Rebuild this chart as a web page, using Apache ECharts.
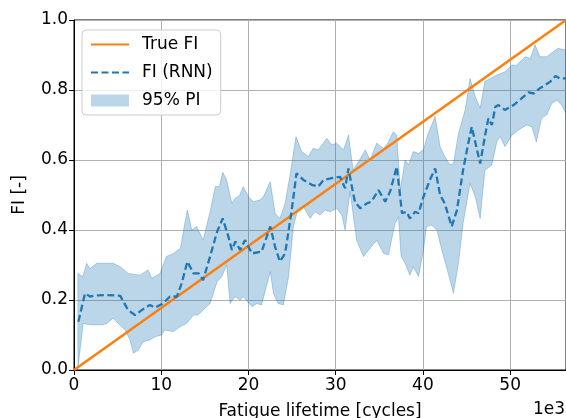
<!DOCTYPE html>
<html>
<head>
<meta charset="utf-8">
<script src="https://cdn.jsdelivr.net/npm/echarts@6/dist/echarts.min.js"></script>
<style>html,body{margin:0;padding:0;background:#fff;}#c{width:566px;height:418px;}</style>
</head>
<body>
<div id="c"></div>
<script>
// x in thousands of cycles, y = fatigue index
const xMax = 56.4;
const trueFI = [[0, 0], [56.4, 1.0]];
const meanFI = [[0.5,0.138],[1.26,0.219],[1.83,0.21],[2.4,0.213],[3.5,0.214],[4.9,0.213],[5.3,0.212],[6.2,0.171],[7.0,0.157],[7.76,0.171],[8.7,0.186],[9.3,0.178],[10.2,0.19],[11.0,0.21],[11.8,0.21],[12.35,0.248],[13.0,0.31],[13.7,0.276],[14.3,0.276],[14.8,0.257],[15.6,0.324],[16.4,0.395],[17.05,0.433],[17.7,0.381],[18.1,0.343],[18.5,0.367],[19.04,0.343],[19.6,0.371],[20.4,0.333],[21.5,0.338],[22.5,0.41],[23.05,0.352],[23.6,0.31],[24.2,0.333],[24.96,0.457],[25.5,0.562],[26.3,0.543],[27.26,0.529],[28.0,0.524],[28.6,0.543],[29.55,0.548],[30.5,0.552],[31.08,0.519],[31.46,0.576],[31.85,0.524],[32.2,0.481],[32.8,0.462],[33.57,0.476],[34.1,0.481],[34.9,0.514],[35.67,0.481],[36.24,0.51],[37.0,0.581],[37.6,0.448],[38.15,0.452],[38.5,0.433],[39.1,0.452],[39.5,0.448],[40.06,0.495],[40.8,0.543],[41.4,0.576],[41.97,0.5],[42.5,0.476],[43.3,0.41],[43.9,0.457],[44.6,0.571],[45.2,0.648],[45.6,0.695],[46.2,0.629],[46.56,0.59],[47.1,0.667],[47.5,0.719],[47.9,0.7],[48.3,0.752],[48.66,0.757],[49.4,0.743],[50.4,0.757],[51.3,0.776],[52.1,0.793],[52.7,0.79],[53.4,0.805],[54.0,0.814],[54.6,0.824],[55.2,0.84],[55.7,0.833],[56.4,0.833]];
const upperPI = [[0.45,0.276],[1.0,0.267],[1.45,0.305],[1.83,0.29],[2.6,0.305],[4.5,0.305],[5.3,0.295],[6.2,0.276],[7.55,0.271],[8.5,0.286],[8.9,0.262],[9.86,0.276],[10.6,0.324],[11.4,0.333],[12.2,0.348],[12.7,0.419],[13.0,0.457],[13.5,0.4],[14.06,0.41],[14.8,0.371],[15.6,0.452],[16.2,0.524],[16.66,0.524],[17.05,0.565],[17.5,0.543],[18.1,0.476],[18.46,0.49],[19.0,0.5],[19.4,0.524],[20.0,0.495],[20.56,0.481],[21.3,0.486],[21.7,0.495],[22.5,0.538],[23.05,0.448],[23.6,0.433],[24.2,0.476],[24.8,0.562],[25.45,0.667],[26.1,0.624],[26.87,0.61],[27.4,0.633],[28.0,0.629],[28.98,0.662],[29.55,0.643],[30.1,0.648],[30.9,0.629],[31.46,0.671],[32.0,0.571],[32.6,0.595],[33.4,0.629],[33.94,0.6],[34.7,0.648],[35.5,0.633],[36.05,0.652],[36.6,0.681],[37.0,0.671],[37.4,0.514],[37.96,0.6],[38.35,0.586],[38.9,0.624],[39.5,0.619],[40.06,0.629],[40.6,0.676],[41.4,0.724],[41.97,0.638],[42.5,0.61],[43.1,0.586],[43.5,0.59],[44.07,0.676],[44.84,0.743],[45.4,0.833],[46.0,0.781],[46.56,0.748],[47.1,0.824],[47.7,0.833],[48.47,0.843],[49.4,0.852],[50.2,0.871],[50.76,0.871],[51.7,0.895],[52.3,0.89],[52.86,0.929],[53.4,0.895],[54.2,0.895],[54.97,0.91],[55.5,0.919],[56.4,0.914]];
const lowerPI = [[0.45,0.005],[1.05,0.133],[1.83,0.129],[3.3,0.129],[3.75,0.133],[4.5,0.148],[5.1,0.133],[5.85,0.114],[6.42,0.086],[6.8,0.048],[7.37,0.057],[7.94,0.081],[8.7,0.086],[9.3,0.095],[10.05,0.1],[10.4,0.114],[11.4,0.11],[12.2,0.124],[12.9,0.133],[13.7,0.157],[14.2,0.157],[14.8,0.171],[15.6,0.19],[16.4,0.252],[16.94,0.267],[17.5,0.3],[17.9,0.19],[18.46,0.21],[19.04,0.2],[19.4,0.21],[20.4,0.181],[20.95,0.19],[21.5,0.186],[22.5,0.281],[22.86,0.219],[23.4,0.19],[24.0,0.186],[24.6,0.267],[25.15,0.41],[25.7,0.462],[26.3,0.467],[27.07,0.433],[27.6,0.452],[28.2,0.443],[28.8,0.457],[29.36,0.452],[30.1,0.462],[30.7,0.443],[31.08,0.4],[31.65,0.51],[32.03,0.438],[32.4,0.371],[33.18,0.324],[33.94,0.348],[34.7,0.371],[35.5,0.333],[36.05,0.329],[36.8,0.419],[37.2,0.438],[37.5,0.324],[37.96,0.305],[38.5,0.271],[38.9,0.295],[39.5,0.267],[40.06,0.343],[40.4,0.41],[41.0,0.414],[41.6,0.4],[42.16,0.343],[42.7,0.295],[43.5,0.219],[44.07,0.305],[44.6,0.419],[45.4,0.533],[46.0,0.495],[46.56,0.433],[47.1,0.571],[47.9,0.586],[48.47,0.652],[48.85,0.667],[49.4,0.638],[50.2,0.671],[50.95,0.686],[51.9,0.7],[52.5,0.695],[53.0,0.652],[53.6,0.719],[54.2,0.729],[54.78,0.762],[55.35,0.771],[55.9,0.757],[56.4,0.733]];

const FONT = 'DejaVu Sans';
const chart = echarts.init(document.getElementById('c'), null, {renderer: 'canvas'});
chart.setOption({
  animation: false,
  textStyle: {fontFamily: FONT},
  grid: {left: 74, right: 0, top: 20, bottom: 48, containLabel: false, outerBoundsMode: 'none',
         show: true, borderColor: '#000', borderWidth: 1, backgroundColor: 'transparent'},
  legend: {
    orient: 'vertical', left: 82, top: 30,
    itemWidth: 38, itemHeight: 12, itemGap: 11,
    padding: [6, 8, 6, 8],
    backgroundColor: 'rgba(255,255,255,0.8)', borderColor: '#cccccc', borderWidth: 1, borderRadius: 4,
    textStyle: {fontFamily: FONT, fontSize: 17, color: '#000', padding: [0, 0, 0, 8]},
    data: [
      {name: 'True FI', itemStyle: {opacity: 0}},
      {name: 'FI (RNN)', itemStyle: {opacity: 0}},
      {name: '95% PI', icon: 'rect', itemStyle: {color: 'rgba(31,119,180,0.3)', opacity: 1}}
    ]
  },
  xAxis: {
    type: 'value', min: 0, max: xMax, interval: 10,
    name: 'Fatigue lifetime [cycles]', nameLocation: 'middle', nameGap: 33,
    nameTextStyle: {fontFamily: FONT, fontSize: 17, color: '#000'},
    axisLine: {show: true, onZero: false, lineStyle: {color: '#000', width: 1}},
    axisTick: {show: true, length: 5, lineStyle: {color: '#000'}},
    axisLabel: {fontFamily: FONT, fontSize: 17, color: '#000', margin: 7, showMaxLabel: false},
    splitLine: {show: true, lineStyle: {color: '#b0b0b0', width: 1}}
  },
  yAxis: {
    type: 'value', min: 0, max: 1, interval: 0.2,
    name: 'FI [-]', nameLocation: 'middle', nameGap: 46,
    nameTextStyle: {fontFamily: FONT, fontSize: 17, color: '#000'},
    axisLine: {show: true, onZero: false, lineStyle: {color: '#000', width: 1}},
    axisTick: {show: true, length: 5, lineStyle: {color: '#000'}},
    axisLabel: {fontFamily: FONT, fontSize: 17, color: '#000', margin: 6, formatter: v => v.toFixed(1)},
    splitLine: {show: true, lineStyle: {color: '#b0b0b0', width: 1}}
  },
  graphic: [{
    type: 'text', right: 1, bottom: 0,
    style: {text: '1e3', font: '17px "DejaVu Sans"', fill: '#000'}
  }],
  series: [
    {
      name: '95% PI', type: 'custom', coordinateSystem: 'cartesian2d', clip: true, z: 1,
      itemStyle: {color: 'rgba(31,119,180,0.3)'},
      data: [[0, 0]],
      encode: {x: 0, y: 1},
      renderItem: function (params, api) {
        const pts = [];
        upperPI.forEach(p => pts.push(api.coord(p)));
        for (let i = lowerPI.length - 1; i >= 0; i--) pts.push(api.coord(lowerPI[i]));
        return {
          type: 'polygon', shape: {points: pts},
          style: {fill: 'rgba(31,119,180,0.3)', stroke: 'rgba(31,119,180,0.3)', lineWidth: 1}
        };
      }
    },
    {
      name: 'True FI', type: 'line', data: trueFI, symbol: 'none', z: 3,
      lineStyle: {color: '#ff7f0e', width: 2.5}, itemStyle: {color: '#ff7f0e'}
    },
    {
      name: 'FI (RNN)', type: 'line', data: meanFI, symbol: 'none', z: 4,
      lineStyle: {color: '#1f77b4', width: 2.3, type: [7, 3.5]}, itemStyle: {color: '#1f77b4'}
    }
  ]
});
</script>
</body>
</html>
